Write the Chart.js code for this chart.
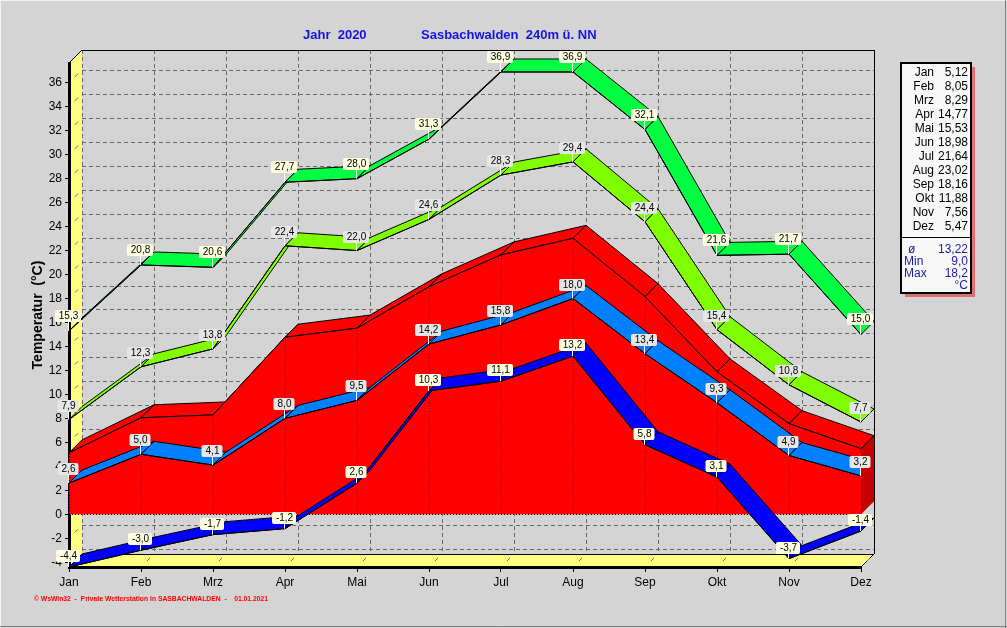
<!DOCTYPE html>
<html>
<head>
<meta charset="utf-8">
<title>Jahr 2020 Sasbachwalden</title>
<script src="https://cdn.jsdelivr.net/npm/chart.js@4.4.1/dist/chart.umd.min.js"></script>
<style>
  html, body { margin: 0; padding: 0; background: #d4d4d4; overflow: hidden; }
  canvas { display: block; }
</style>
</head>
<body>
<canvas id="graph" width="1007" height="628"></canvas>
<script>
// Monatswerte 2020
var months = ['Jan', 'Feb', 'Mrz', 'Apr', 'Mai', 'Jun', 'Jul', 'Aug', 'Sep', 'Okt', 'Nov', 'Dez'];
var absMax = [15.3, 20.8, 20.6, 27.7, 28.0, 31.3, 36.9, 36.9, 32.1, 21.6, 21.7, 15.0];
var meanMax = [7.9, 12.3, 13.8, 22.4, 22.0, 24.6, 28.3, 29.4, 24.4, 15.4, 10.8, 7.7];
var meanTemp = [5.12, 8.05, 8.29, 14.77, 15.53, 18.98, 21.64, 23.02, 18.16, 11.88, 7.56, 5.47];
var meanMin = [2.6, 5.0, 4.1, 8.0, 9.5, 14.2, 15.8, 18.0, 13.4, 9.3, 4.9, 3.2];
var absMin = [-4.4, -3.0, -1.7, -1.2, 2.6, 10.3, 11.1, 13.2, 5.8, 3.1, -3.7, -1.4];

var statNames = ['ø', 'Min', 'Max'];
var statValues = [13.22, 9.0, 18.2];
var statDecimals = [2, 1, 1];

var titleLeft = 'Jahr  2020';
var titleRight = 'Sasbachwalden  240m ü. NN';
var footer = '© WsWin32  -  Private Wetterstation in SASBACHWALDEN  -    01.01.2021';

// depth of the 3d look, in pixels
var DX = 13, DY = -13;
var FONT = '"Liberation Sans", Arial, sans-serif';

function fmt(v, d) {
  return v.toFixed(d).replace('.', ',');
}

function line(ctx, x1, y1, x2, y2) {
  ctx.beginPath();
  ctx.moveTo(x1, y1);
  ctx.lineTo(x2, y2);
  ctx.stroke();
}

function poly(ctx, pts) {
  ctx.beginPath();
  ctx.moveTo(pts[0][0], pts[0][1]);
  for (var i = 1; i < pts.length; i++) ctx.lineTo(pts[i][0], pts[i][1]);
  ctx.closePath();
}

// background, back wall grid, yellow side wall and floor
function drawRoom(chart) {
  var ctx = chart.ctx, a = chart.chartArea;
  var xs = chart.scales.x, ys = chart.scales.y;
  ctx.save();
  ctx.fillStyle = '#d4d4d4';
  ctx.fillRect(0, 0, chart.width, chart.height);

  ctx.lineWidth = 1;
  ctx.strokeStyle = '#f4f4f4';
  line(ctx, 0, 0.5, chart.width, 0.5);
  line(ctx, 0.5, 0, 0.5, chart.height);
  ctx.strokeStyle = '#808080';
  line(ctx, 0, chart.height - 1.5, chart.width, chart.height - 1.5);
  line(ctx, chart.width - 1.5, 0, chart.width - 1.5, chart.height);

  ctx.strokeStyle = '#6a6a6a';
  ctx.setLineDash([4, 3]);
  ys.ticks.forEach(function(t) {
    var y = Math.round(ys.getPixelForValue(t.value) + DY) + 0.5;
    line(ctx, a.left + DX, y, a.right + DX, y);
  });
  months.forEach(function(m, i) {
    var x = Math.round(xs.getPixelForValue(i) + DX) + 0.5;
    line(ctx, x, a.top + DY, x, a.bottom + DY);
  });
  ctx.setLineDash([]);

  ctx.fillStyle = '#ffff80';
  poly(ctx, [[a.left, a.top], [a.left + DX, a.top + DY], [a.left + DX, a.bottom + DY], [a.left, a.bottom]]);
  ctx.fill();
  poly(ctx, [[a.left, a.bottom], [a.right, a.bottom], [a.right + DX, a.bottom + DY], [a.left + DX, a.bottom + DY]]);
  ctx.fill();

  ctx.strokeStyle = '#000';
  line(ctx, a.left + DX, a.top + DY + 0.5, a.right + DX, a.top + DY + 0.5);
  line(ctx, a.right + DX + 0.5, a.top + DY, a.right + DX + 0.5, a.bottom + DY);
  line(ctx, a.left, a.top, a.left + DX, a.top + DY);
  line(ctx, a.left + DX, a.bottom + DY + 0.5, a.right + DX, a.bottom + DY + 0.5);
  line(ctx, a.right, a.bottom, a.right + DX, a.bottom + DY);

  // small depth marks on the wall and the floor
  ctx.strokeStyle = '#707070';
  ys.ticks.forEach(function(t) {
    var y = ys.getPixelForValue(t.value);
    line(ctx, a.left + DX * 0.45, y + DY * 0.45, a.left + DX * 0.7, y + DY * 0.7);
  });
  months.forEach(function(m, i) {
    var x = xs.getPixelForValue(i);
    line(ctx, x + DX * 0.45, a.bottom + DY * 0.45, x + DX * 0.7, a.bottom + DY * 0.7);
  });
  ctx.restore();
}

// one band from the front line to the back line
function drawRibbon(ctx, pts, color) {
  ctx.save();
  ctx.fillStyle = color;
  ctx.strokeStyle = '#000';
  ctx.lineWidth = 1;
  ctx.lineJoin = 'round';
  for (var i = 0; i < pts.length - 1; i++) {
    var f0 = pts[i], f1 = pts[i + 1];
    poly(ctx, [[f0.x, f0.y], [f1.x, f1.y], [f1.x + DX, f1.y + DY], [f0.x + DX, f0.y + DY]]);
    ctx.fill();
    ctx.stroke();
  }
  ctx.restore();
}

// red mean temperature block
function drawArea(chart, pts, color) {
  var ctx = chart.ctx;
  var y0 = chart.scales.y.getPixelForValue(0);
  drawRibbon(ctx, pts, color);
  ctx.save();
  ctx.fillStyle = color;
  ctx.beginPath();
  ctx.moveTo(pts[0].x, y0);
  pts.forEach(function(p) { ctx.lineTo(p.x, p.y); });
  ctx.lineTo(pts[pts.length - 1].x, y0);
  ctx.closePath();
  ctx.fill();
  ctx.strokeStyle = '#000';
  ctx.lineWidth = 1;
  ctx.setLineDash([1, 2]);
  pts.forEach(function(p) {
    var x = Math.round(p.x) + 0.5;
    line(ctx, x, y0, x, p.y);
  });
  line(ctx, pts[0].x, Math.round(y0) + 0.5, pts[pts.length - 1].x, Math.round(y0) + 0.5);
  ctx.restore();
}

function drawEndFace(chart) {
  var ctx = chart.ctx;
  var y0 = chart.scales.y.getPixelForValue(0);
  chart.data.datasets.forEach(function(ds, di) {
    if (!ds.area) return;
    var pts = chart.getDatasetMeta(di).data;
    var p = pts[pts.length - 1];
    ctx.save();
    ctx.fillStyle = '#c40000';
    poly(ctx, [[p.x, y0], [p.x, p.y], [p.x + DX, p.y + DY], [p.x + DX, y0 + DY]]);
    ctx.fill();
    ctx.strokeStyle = '#000';
    line(ctx, p.x, p.y, p.x + DX, p.y + DY);
    ctx.restore();
  });
}

function drawValueLabels(chart) {
  var ctx = chart.ctx;
  ctx.save();
  ctx.font = '10px ' + FONT;
  ctx.textAlign = 'center';
  ctx.textBaseline = 'middle';
  chart.data.datasets.forEach(function(ds, di) {
    if (!ds.labelBg) return;
    chart.getDatasetMeta(di).data.forEach(function(p, i) {
      var txt = fmt(ds.data[i], 1);
      var w = Math.round(ctx.measureText(txt).width) + 7, h = 12;
      var cx = Math.round(p.x) - 1;
      var by = Math.round(p.y - ds.labelGap - h);
      ctx.strokeStyle = '#fff';
      ctx.lineWidth = 1;
      line(ctx, cx + 0.5, by + h, cx + 0.5, p.y);
      ctx.fillStyle = ds.labelBg;
      ctx.beginPath();
      ctx.roundRect(cx - w / 2, by, w, h, 2);
      ctx.fill();
      ctx.fillStyle = '#000';
      ctx.fillText(txt, cx + 0.5, by + h / 2 + 0.5);
    });
  });
  ctx.restore();
}

function drawTexts(chart) {
  var ctx = chart.ctx;
  ctx.save();
  ctx.fillStyle = '#1414e6';
  ctx.font = 'bold 13px ' + FONT;
  ctx.textBaseline = 'middle';
  ctx.fillText(titleLeft, 303, 35);
  ctx.fillText(titleRight, 421, 35);

  ctx.fillStyle = '#ff0000';
  ctx.font = 'bold 8px ' + FONT;
  var fw = ctx.measureText(footer).width;
  ctx.translate(34, 599);
  ctx.scale(234 / fw, 1);
  ctx.fillText(footer, 0, 0);
  ctx.restore();
}

// month table with mean values
function drawTable(chart) {
  var ctx = chart.ctx;
  var x = 901, y = 63, w = 70, h = 230;
  ctx.save();
  ctx.fillStyle = '#e07070';
  ctx.fillRect(x + 4, y + 4, w, h);
  ctx.fillStyle = '#f8f8f8';
  ctx.fillRect(x, y, w, h);
  ctx.strokeStyle = '#000';
  ctx.lineWidth = 2;
  ctx.strokeRect(x, y, w, h);
  ctx.lineWidth = 1;
  line(ctx, x, 237.5, x + w, 237.5);

  ctx.font = '12px ' + FONT;
  ctx.textBaseline = 'middle';
  ctx.textAlign = 'right';
  ctx.fillStyle = '#000';
  months.forEach(function(m, i) {
    ctx.fillText(m, 934, 73 + i * 14);
    ctx.fillText(fmt(meanTemp[i], 2), 968, 73 + i * 14);
  });

  ctx.fillStyle = '#1c1caa';
  statNames.forEach(function(n, i) {
    var ty = 250 + i * 12;
    ctx.textAlign = 'left';
    ctx.fillText(n, i === 0 ? 908 : 904, ty);
    ctx.textAlign = 'right';
    ctx.fillText(fmt(statValues[i], statDecimals[i]), 968, ty);
  });
  ctx.fillText('°C', 968, 286);
  ctx.restore();
}

var room3d = {
  id: 'room3d',
  beforeDraw: function(chart) {
    drawRoom(chart);
  },
  beforeDatasetDraw: function(chart, args) {
    var ds = chart.data.datasets[args.index];
    if (ds.area) {
      drawArea(chart, args.meta.data, ds.ribbonColor);
    } else {
      drawRibbon(chart.ctx, args.meta.data, ds.ribbonColor);
    }
  },
  afterDatasetsDraw: function(chart) {
    drawEndFace(chart);
    drawValueLabels(chart);
  },
  afterDraw: function(chart) {
    drawTexts(chart);
    drawTable(chart);
  }
};

function series(label, values, color, extra) {
  var ds = {
    label: label,
    data: values,
    ribbonColor: color,
    borderColor: '#000',
    borderWidth: 1,
    pointRadius: 0,
    fill: false,
    tension: 0,
    clip: false
  };
  for (var k in extra) ds[k] = extra[k];
  return ds;
}

var context = document.querySelector('#graph').getContext('2d');
var chart = new Chart(context, {
  type: 'line',
  data: {
    labels: months,
    datasets: [
      series('Abs. Max', absMax, '#00ff40', { labelBg: '#ffffe1', labelGap: 9, order: 5 }),
      series('Mittl. Max', meanMax, '#80ff00', { labelBg: '#e6e6e6', labelGap: 8, order: 4 }),
      series('Mittel', meanTemp, '#ff0000', { area: true, order: 3 }),
      series('Mittl. Min', meanMin, '#0080ff', { labelBg: '#e6e6e6', labelGap: 8, order: 2 }),
      series('Abs. Min', absMin, '#0000ff', { labelBg: '#ffffe1', labelGap: 5, order: 1 })
    ]
  },
  options: {
    responsive: false,
    devicePixelRatio: 1,
    animation: false,
    layout: {
      padding: { top: 63, right: 146, bottom: 0, left: 0 }
    },
    plugins: {
      legend: { display: false },
      tooltip: { enabled: false },
      title: { display: false }
    },
    scales: {
      x: {
        type: 'category',
        offset: false,
        grid: { drawOnChartArea: false, drawTicks: true, tickLength: 5, color: '#000' },
        border: { display: true, color: '#000', width: 3 },
        ticks: { color: '#000', font: { family: FONT, size: 12 }, padding: 3, maxRotation: 0, autoSkip: false },
        afterFit: function(scale) { scale.height = 61; }
      },
      y: {
        type: 'linear',
        min: -4.4,
        max: 37.65,
        grid: { drawOnChartArea: false, drawTicks: true, tickLength: 4, color: '#000' },
        border: { display: true, color: '#000', width: 3 },
        ticks: {
          stepSize: 2,
          includeBounds: false,
          color: '#000',
          font: { family: FONT, size: 12 },
          padding: 3,
          callback: function(v) { return String(v); }
        },
        title: {
          display: true,
          text: 'Temperatur  (°C)',
          color: '#000',
          font: { family: FONT, size: 14, weight: 'bold' },
          padding: { top: 30, bottom: 0 }
        },
        afterFit: function(scale) { scale.width = 69; }
      }
    }
  },
  plugins: [room3d]
});
</script>
</body>
</html>
